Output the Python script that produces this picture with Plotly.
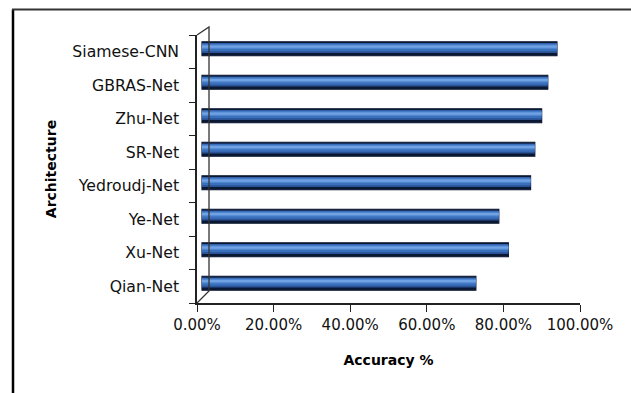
import plotly.graph_objects as go

architectures = ["Qian-Net", "Xu-Net", "Ye-Net", "Yedroudj-Net", "SR-Net", "Zhu-Net", "GBRAS-Net", "Siamese-CNN"]
accuracy = [71.6, 80.1, 77.6, 85.9, 87.0, 88.8, 90.4, 92.8]
tick_vals = [0, 20, 40, 60, 80, 100]
tick_text = ["0.00%", "20.00%", "40.00%", "60.00%", "80.00%", "100.00%"]

W, H = 631, 393
L, R, T, B = 197, 580, 35, 303  # plot area in px
PW, PH = R - L, B - T


def px(x):
    return (x - L) / PW


def py(y):
    return (B - y) / PH


FONT = "DejaVu Sans"

fig = go.Figure()

# cylinder-like bars built from stacked layers (dark edge -> highlight)
layers = [
    (-0.209, 0.418, "#0b1833"),
    (-0.13, 0.30, "#2a5296"),
    (-0.075, 0.23, "#3a6fbb"),
    (-0.01, 0.14, "#4f86d0"),
    (0.03, 0.07, "#71a2e3"),
]
for off, wid, col in layers:
    fig.add_trace(go.Bar(
        x=accuracy, y=architectures, orientation="h",
        xaxis="x2", yaxis="y2",
        width=wid, offset=off,
        marker=dict(color=col, line=dict(width=1.2 if off < -0.2 else 0, color="#0b1833")),
        hoverinfo="x+y", showlegend=False,
    ))

# invisible trace on the main axes so the category labels exist
fig.add_trace(go.Scatter(x=[None] * len(architectures), y=architectures, mode="markers",
                         showlegend=False, hoverinfo="skip"))

xshift = 5.0  # 3D depth shift in px
units_per_px = 100.0 / 382.5
x2_lo = -xshift * units_per_px
x2_hi = x2_lo + PW * units_per_px
yshift = 3.0 / (PH / 8)

fig.update_layout(
    width=W, height=H,
    margin=dict(l=L, r=W - R, t=T, b=H - B),
    paper_bgcolor="white", plot_bgcolor="rgba(0,0,0,0)",
    barmode="overlay",
    font=dict(family=FONT, size=15, color="black"),
    xaxis=dict(
        range=[0, 100], tickvals=tick_vals, ticktext=tick_text,
        showgrid=False, zeroline=False,
        showline=True, linecolor="#222", linewidth=1.5,
        ticks="outside", ticklen=7, tickcolor="#222", tickwidth=1.3,
        tickfont=dict(family=FONT, size=15, color="#111"),
        title=dict(text="<b>Accuracy %</b>", font=dict(family=FONT, size=14, color="black"), standoff=22),
    ),
    yaxis=dict(
        type="category", categoryorder="array", categoryarray=architectures,
        range=[-0.5, 7.5],
        showgrid=False, zeroline=False,
        showline=True, linecolor="#222", linewidth=1.5,
        ticks="outside", ticklen=6, tickcolor="#222", tickwidth=1.3, tickson="boundaries",
        ticklabelstandoff=13,
        tickfont=dict(family=FONT, size=15.7, color="#111"),
        title=dict(text="<b>Architecture</b>", font=dict(family=FONT, size=14, color="black"), standoff=12),
    ),
    xaxis2=dict(overlaying="x", range=[x2_lo, x2_hi], visible=False),
    yaxis2=dict(overlaying="y", type="category", categoryorder="array", categoryarray=architectures,
                range=[-0.5 - yshift, 7.5 - yshift], visible=False),
    shapes=[
        # outer frame (left and top edges)
        dict(type="line", xref="paper", yref="paper", x0=px(13), x1=px(13), y0=py(9.5), y1=py(400),
             line=dict(color="black", width=2.5)),
        dict(type="line", xref="paper", yref="paper", x0=px(12), x1=px(640), y0=py(9.5), y1=py(9.5),
             line=dict(color="#333", width=2)),
        # 3D back wall of the category axis
        dict(type="path", xref="paper", yref="paper",
             path=f"M {px(197)},{py(35)} L {px(209)},{py(27)} L {px(209)},{py(291)} L {px(197)},{py(303)}",
             line=dict(color="#333", width=1.3)),
    ],
)

fig.write_html("out.html")
